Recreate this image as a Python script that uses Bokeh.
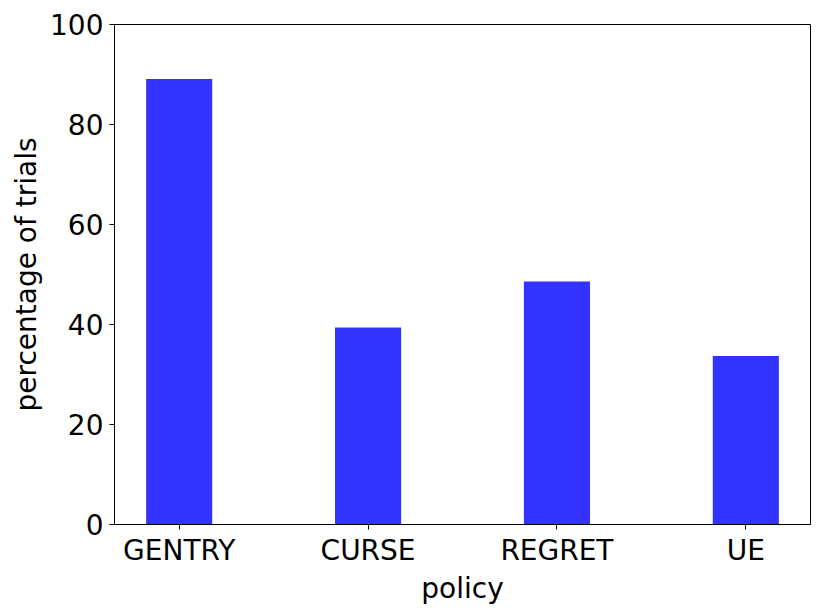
from bokeh.plotting import figure
from bokeh.models import ColumnDataSource, FixedTicker, Range1d
from bokeh.embed import file_html
from bokeh.resources import INLINE

categories = ["GENTRY", "CURSE", "REGRET", "UE"]
percent = [89.1, 39.4, 48.6, 33.7]
y_ticks = [0, 20, 40, 60, 80, 100]

xpos = list(range(len(categories)))
src = ColumnDataSource(dict(x=xpos, top=percent))

p = figure(frame_width=696, frame_height=500, output_backend="svg", toolbar_location=None,
           x_range=Range1d(-0.3425, len(categories) - 1 + 0.3425),
           y_range=Range1d(0, 100),
           min_border_left=105, min_border_right=5, min_border_top=24, min_border_bottom=70)
p.margin = (0, 0, 0, 7)
p.vbar(x="x", top="top", bottom=0, width=0.35, source=src,
       fill_color="#3333ff", line_color=None)

p.grid.visible = False
p.outline_line_color = "black"
p.outline_line_width = 1
p.background_fill_color = "white"
p.border_fill_color = "white"

for ax in (p.xaxis, p.yaxis):
    ax.axis_line_color = "black"
    ax.major_tick_line_color = "black"
    ax.major_tick_in = 0
    ax.major_tick_out = 5
    ax.minor_tick_line_color = None
    ax.major_label_text_font = "DejaVu Sans"
    ax.major_label_text_font_size = "28px"
    ax.major_label_text_color = "black"
    ax.axis_label_text_font = "DejaVu Sans"
    ax.axis_label_text_font_size = "28px"
    ax.axis_label_text_font_style = "normal"
    ax.axis_label_text_color = "black"

p.xaxis.ticker = FixedTicker(ticks=xpos)
p.xaxis.major_label_overrides = {i: c for i, c in enumerate(categories)}
p.yaxis.ticker = FixedTicker(ticks=y_ticks)
p.xaxis.axis_label = "policy"
p.yaxis.axis_label = "percentage of trials"
p.xaxis.major_label_standoff = 4
p.yaxis.major_label_standoff = 6
p.xaxis.axis_label_standoff = 2
p.yaxis.axis_label_standoff = 4

open("out.html", "w").write(file_html(p, INLINE))
